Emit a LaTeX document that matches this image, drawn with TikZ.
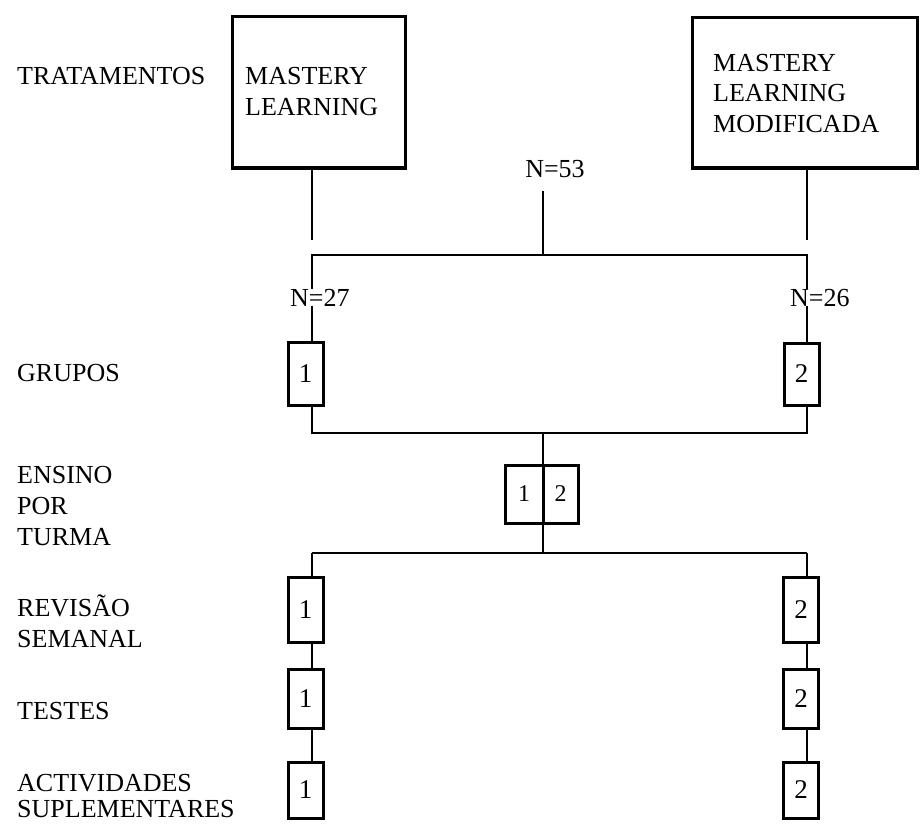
\documentclass[tikz,border=0pt]{standalone}
\usepackage{fontspec}
\setmainfont{Liberation Serif}
\usetikzlibrary{positioning}

\begin{document}
\begin{tikzpicture}[x=1pt, y=-1pt,
    rotulo/.style={font=\fontsize{26}{31}\selectfont, align=left, inner sep=0pt},
    caixa/.style={draw, line width=3pt, inner sep=0pt, outer sep=0pt},
    numcaixa/.style={caixa, minimum width=35pt, font=\fontsize{27}{30}\selectfont},
    linha/.style={line width=2.5pt}]

\useasboundingbox (0,0) rectangle (921,824);

% Tratamentos
\node[rotulo, anchor=base west] (trat) at (17,85) {TRATAMENTOS};
\node[caixa, minimum width=173pt, minimum height=151pt] (ml) at (318.5,92.5) {};
\node[rotulo, anchor=base west] (mltxt) at (245,116) {MASTERY\\LEARNING};
\node[caixa, minimum width=225pt, minimum height=150pt] (mlm) at (804.5,93) {};
\node[rotulo, anchor=base west] (mlmtxt) at (713,133) {MASTERY\\LEARNING\\MODIFICADA};

\coordinate (mlfim) at (312,240);
\coordinate (mlmfim) at (807,240);
\draw[linha] (ml.south -| mlfim) -- (mlfim);
\draw[linha] (mlm.south -| mlmfim) -- (mlmfim);

% Divisao N=53
\node[rotulo, anchor=base] (n53) at (555,178) {N=53};
\node[rotulo, anchor=base west] (n27) at (290,306) {N=27};
\node[rotulo, anchor=base west] (n26) at (790,306) {N=26};
\coordinate (a0) at (543,255);
\coordinate (a1) at (312,255);
\coordinate (a2) at (807,255);
\draw[linha, shorten >=13pt] (a0) -- (a0 |- n53.south);
\draw[linha] (a1 |- n27.north) -- (a1) -- (a2) -- (a2 |- n26.north);

% Grupos
\node[rotulo, anchor=base west] (grupos) at (17,381) {GRUPOS};
\node[numcaixa, minimum height=63pt] (g1) at (305.5,373.5) {1};
\node[numcaixa, minimum height=62pt] (g2) at (801.5,374) {2};
\draw[linha] (a1 |- n27.south) -- (g1.north -| a1);
\draw[linha] (a2 |- n26.south) -- (g2.north -| a2);

\coordinate (b0) at (543,433);
\coordinate (b1) at (312,433);
\coordinate (b2) at (807,433);
\draw[linha] (g1.south -| b1) -- (b1) -- (b2) -- (g2.south -| b2);

% Ensino por turma
\node[rotulo, anchor=base west] (ensino) at (17,545) {ENSINO\\POR\\TURMA};
\node[caixa, minimum width=38pt, minimum height=58pt, font=\fontsize{24}{28}\selectfont] (tb1) at (524,494) {1};
\node[caixa, minimum width=35pt, minimum height=58pt, font=\fontsize{24}{28}\selectfont, right=0pt of tb1] (tb2) {2};

\coordinate (c0) at (543,553);
\coordinate (c1) at (312,553);
\coordinate (c2) at (807,553);
\draw[line width=1.8pt] (b0) -- (tb1.north east);
\draw[line width=1.8pt] (tb1.south east) -- (c0);
\draw[linha] (c1) -- (c2);

% Revisao, testes, actividades
\node[rotulo, anchor=base west] (revisao) at (17,647) {REVISÃO\\SEMANAL};
\node[rotulo, anchor=base west] (testes) at (17,719) {TESTES};
\node[rotulo, anchor=base west] (activ) at (17,817) {ACTIVIDADES\\[-5pt]SUPLEMENTARES};

\foreach \nome/\y/\h in {r/609.5/65, t/698.5/59, s/790/56} {
    \node[numcaixa, minimum height=\h pt] (\nome1) at (305.5,\y) {1};
    \node[numcaixa, minimum height=\h pt] (\nome2) at (801,\y) {2};
}

\foreach \i in {1,2}
    \draw[linha] (c\i) -- (r\i.north -| c\i)
        (r\i.south -| c\i) -- (t\i.north -| c\i)
        (t\i.south -| c\i) -- (s\i.north -| c\i);

\end{tikzpicture}
\end{document}
